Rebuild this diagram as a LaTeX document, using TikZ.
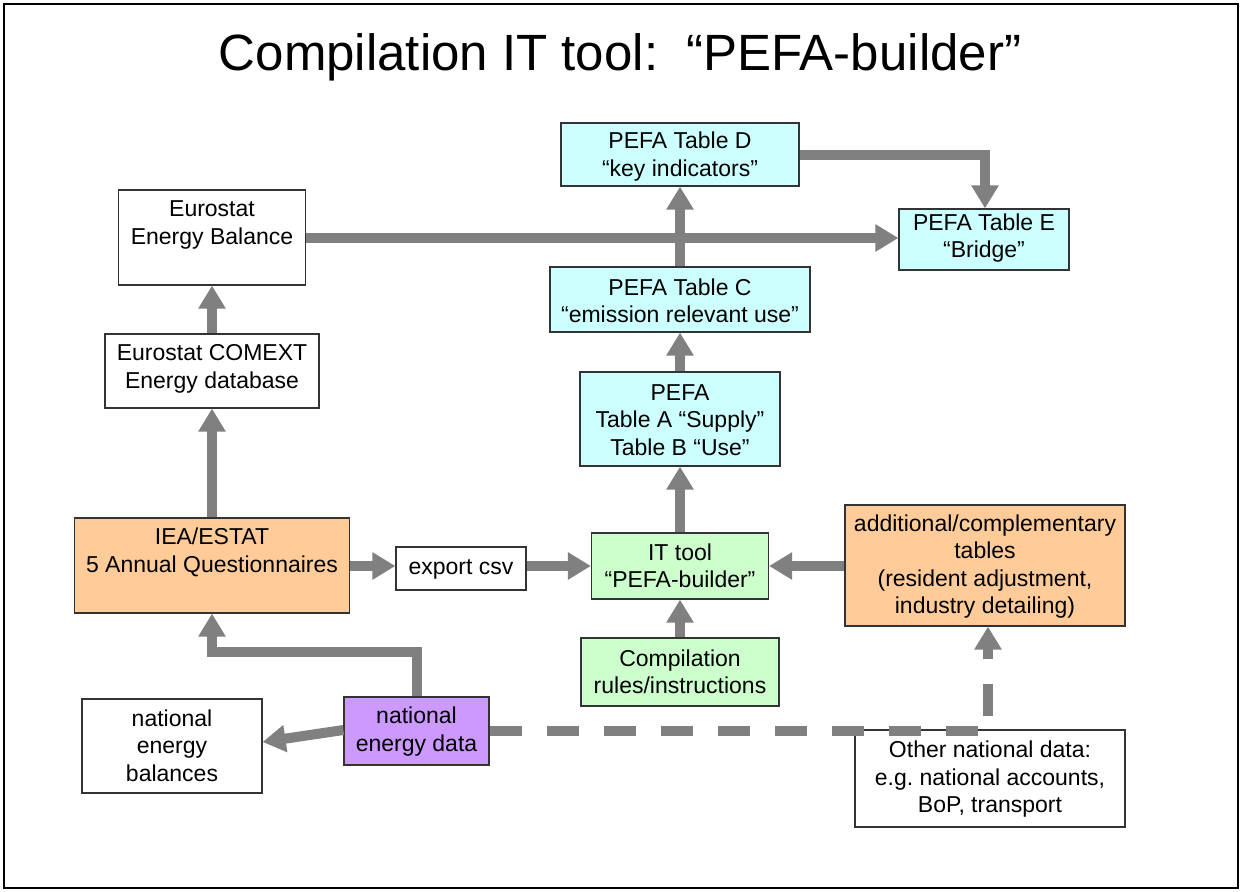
\documentclass[tikz,border=0pt]{standalone}
\usepackage{fontspec}
\setmainfont{Liberation Sans}
\usetikzlibrary{arrows.meta}
\definecolor{cyanbox}{HTML}{CCFFFF}
\definecolor{greenbox}{HTML}{CCFFCC}
\definecolor{orangebox}{HTML}{FFCC99}
\definecolor{purplebox}{HTML}{CC99FF}
\definecolor{arrowgray}{HTML}{808080}
\tikzset{
  box/.style={draw=black!80, line width=1.2pt, inner sep=0pt},
  txt/.style={align=center, font=\fontsize{23}{27.5}\selectfont, inner sep=0pt},
  arr/.style={draw=arrowgray, line width=10pt, -{Triangle[width=26pt,length=23pt]}},
  dasharr/.style={arr, dash pattern=on 32pt off 25pt},
}
\begin{document}
\begin{tikzpicture}[x=1pt,y=-1pt]
\path[use as bounding box] (0,0) rectangle (1243,892);
\draw[line width=2pt] (4,4) rectangle (1238,888);
\node[anchor=base, font=\fontsize{51}{60}\selectfont, inner sep=0pt] (title) at (620,70) {Compilation IT tool:\ \ “PEFA-builder”};

% boxes
\node[box, fill=cyanbox, minimum width=238pt, minimum height=63pt] (tD) at (680,154.5) {};
\node[txt] at (680,156.5) {PEFA Table D\\“key indicators”};
\node[box, fill=cyanbox, minimum width=170pt, minimum height=61pt] (tE) at (984,239.5) {};
\node[txt] at (984,238) {PEFA Table E\\“Bridge”};
\node[box, fill=white, minimum width=187pt, minimum height=95pt] (eb) at (212,237.5) {};
\node[txt] at (212,225) {Eurostat\\Energy Balance};
\node[box, fill=cyanbox, minimum width=260pt, minimum height=65pt] (tC) at (680,299.5) {};
\node[txt] at (680,301) {PEFA Table C\\“emission relevant use”};
\node[box, fill=white, minimum width=214pt, minimum height=74pt] (cx) at (212,371) {};
\node[txt] at (212,369) {Eurostat COMEXT\\Energy database};
\node[box, fill=cyanbox, minimum width=200pt, minimum height=94pt] (tAB) at (680,419) {};
\node[txt] at (680,420) {PEFA\\Table A “Supply”\\Table B “Use”};
\node[box, fill=orangebox, minimum width=275pt, minimum height=95pt] (iea) at (212,565.5) {};
\node[txt] at (212,552.5) {IEA/ESTAT\\5 Annual Questionnaires};
\node[box, fill=white, minimum width=130pt, minimum height=43pt] (csv) at (461,568.5) {};
\node[txt] at (461,569) {export csv};
\node[box, fill=greenbox, minimum width=177pt, minimum height=66pt] (it) at (680,566) {};
\node[txt] at (680,566) {IT tool\\“PEFA-builder”};
\node[box, fill=orangebox, minimum width=280pt, minimum height=121pt] (add) at (985,565.5) {};
\node[txt] at (985,566.5) {additional/complementary\\tables\\(resident adjustment,\\industry detailing)};
\node[box, fill=greenbox, minimum width=198pt, minimum height=68pt] (rul) at (680,672) {};
\node[txt] at (680,672) {Compilation\\rules/instructions};
\node[box, fill=purplebox, minimum width=145pt, minimum height=68pt] (ned) at (416.5,731) {};
\node[txt] at (416.5,731.5) {national\\energy data};
\node[box, fill=white, minimum width=180pt, minimum height=94pt] (neb) at (172,746) {};
\node[txt] at (172,745.5) {national\\energy\\balances};
\node[box, fill=white, minimum width=270pt, minimum height=97pt] (ond) at (990,778.5) {};
\node[txt] at (990,779.5) {Other national data:\\e.g.\ national accounts,\\BoP, transport};

% connectors
\coordinate (dcorner) at (985,154.5);
\coordinate (ncorner1) at (416.5,652);
\coordinate (ncorner2) at (212,652);
\coordinate (dashcorner) at (988,731);
\draw[arr] (eb.east |- 0,238) -- (tE.west |- 0,238);
\draw[arr] (tC.north) -- (tD.south);
\draw[arr] (tD.east) -- (dcorner) -- (tE.north -| dcorner);
\draw[arr] (tAB.north) -- (tC.south);
\draw[arr] (it.north) -- (tAB.south);
\draw[arr] (cx.north) -- (eb.south);
\draw[arr] (iea.north) -- (cx.south);
\draw[arr] (iea.east |- 0,566) -- (csv.west |- 0,566);
\draw[arr] (csv.east |- 0,566) -- (it.west |- 0,566);
\draw[arr] (add.west |- 0,566) -- (it.east |- 0,566);
\draw[arr] (rul.north) -- (it.south);
\draw[arr, line join=miter] (ned.north) -- (ncorner1) -- (ncorner2) -- (iea.south);
\draw[arr] (ned.west |- 0,730) -- (neb.east |- 0,742);
\draw[dasharr] (ned.east) -- (dashcorner) -- (add.south -| dashcorner);
\end{tikzpicture}
\end{document}
